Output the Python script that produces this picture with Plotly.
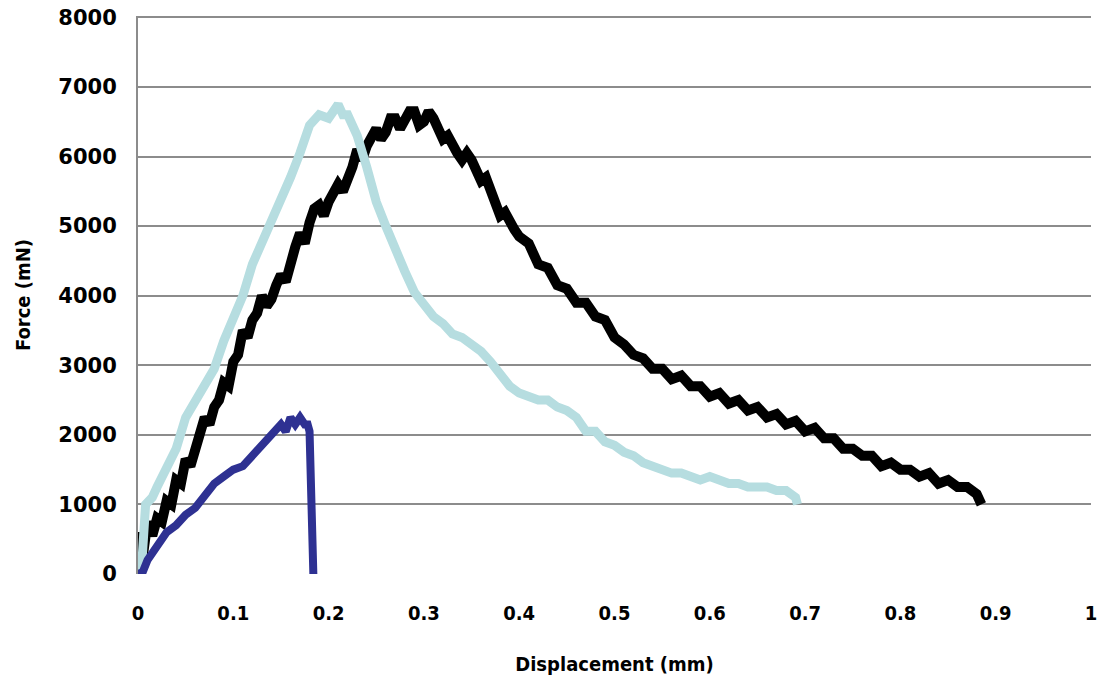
import plotly.graph_objects as go

# Force-displacement records for three specimens
disp_black = [0, 0.002, 0.005, 0.01, 0.015, 0.02, 0.025, 0.03, 0.035, 0.04, 0.045, 0.05,
              0.055, 0.06, 0.065, 0.07, 0.075, 0.08, 0.085, 0.09, 0.095,
              0.10, 0.105, 0.11, 0.115, 0.12, 0.125, 0.13, 0.135, 0.14, 0.145, 0.15, 0.155,
              0.16, 0.165, 0.17, 0.175, 0.18, 0.185, 0.19, 0.195, 0.20, 0.205, 0.21, 0.215,
              0.22, 0.225, 0.23, 0.235, 0.24, 0.245, 0.25, 0.255, 0.26, 0.265, 0.27, 0.275,
              0.28, 0.285, 0.29, 0.295, 0.30, 0.305, 0.31, 0.315, 0.32, 0.325, 0.33, 0.335,
              0.34, 0.345, 0.35, 0.355, 0.36, 0.365, 0.37, 0.375, 0.38, 0.385, 0.39, 0.395,
              0.40, 0.41, 0.42, 0.43, 0.44, 0.45, 0.46, 0.47, 0.48,
              0.49, 0.50, 0.51, 0.52, 0.53, 0.54, 0.55, 0.56, 0.57, 0.58, 0.59, 0.60, 0.61,
              0.62, 0.63, 0.64, 0.65, 0.66, 0.67, 0.68, 0.69, 0.70, 0.71, 0.72, 0.73, 0.74,
              0.75, 0.76, 0.77, 0.78, 0.79, 0.80, 0.81, 0.82, 0.83, 0.84, 0.85, 0.86, 0.87,
              0.88, 0.885]
force_black = [0, 600, 250, 750, 550, 800, 750, 1050, 1000, 1350, 1300, 1650,
               1550, 1800, 2000, 2250, 2150, 2400, 2500, 2750, 2700,
               3050, 3150, 3500, 3400, 3650, 3750, 4000, 3850, 3950, 4150, 4300, 4200,
               4500, 4700, 4900, 4750, 5050, 5250, 5300, 5150, 5350, 5500, 5600, 5500,
               5650, 5850, 6100, 5950, 6150, 6300, 6400, 6250, 6350, 6550, 6550, 6400,
               6500, 6650, 6650, 6450, 6500, 6650, 6550, 6350, 6250, 6300, 6150, 6050,
               5950, 6050, 5950, 5800, 5650, 5700, 5500, 5350, 5150, 5200, 5050, 4950,
               4850, 4750, 4450, 4400, 4150, 4100, 3900, 3900, 3700,
               3650, 3400, 3300, 3150, 3100, 2950, 2950, 2800, 2850, 2700, 2700, 2550, 2600,
               2450, 2500, 2350, 2400, 2250, 2300, 2150, 2200, 2050, 2100, 1950, 1950, 1800,
               1800, 1700, 1700, 1550, 1600, 1500, 1500, 1400, 1450, 1300, 1350, 1250, 1250,
               1150, 1000]

disp_light = [0, 0.004, 0.008, 0.015, 0.02, 0.03, 0.04, 0.05, 0.06, 0.07, 0.08, 0.09,
              0.10, 0.11, 0.12, 0.13, 0.14, 0.15, 0.16, 0.17, 0.18, 0.19, 0.20, 0.21, 0.215,
              0.22, 0.23, 0.24, 0.25, 0.26, 0.27, 0.28, 0.29, 0.30, 0.31, 0.32, 0.33, 0.34,
              0.35, 0.36, 0.37, 0.38, 0.39, 0.40, 0.41, 0.42, 0.43, 0.44, 0.45, 0.46, 0.47,
              0.48, 0.49, 0.50, 0.51, 0.52, 0.53, 0.54, 0.55, 0.56, 0.57, 0.58, 0.59, 0.60,
              0.61, 0.62, 0.63, 0.64, 0.65, 0.66, 0.67, 0.68, 0.69, 0.692]
force_light = [0, 150, 1000, 1100, 1250, 1500, 1800, 2250, 2500, 2700, 2950, 3350,
               3650, 4000, 4450, 4750, 5050, 5400, 5700, 6050, 6450, 6600, 6550, 6750, 6600,
               6600, 6300, 5850, 5350, 5000, 4650, 4350, 4050, 3850, 3700, 3600, 3450, 3400,
               3300, 3200, 3050, 2850, 2700, 2600, 2550, 2500, 2500, 2400, 2350, 2250, 2050,
               2050, 1900, 1850, 1750, 1700, 1600, 1550, 1500, 1450, 1450, 1400, 1350, 1400,
               1350, 1300, 1300, 1250, 1250, 1250, 1200, 1200, 1100, 1000]

disp_dark = [0, 0.005, 0.01, 0.015, 0.02, 0.025, 0.03, 0.04, 0.05, 0.06, 0.07, 0.08,
             0.09, 0.10, 0.11, 0.12, 0.13, 0.14, 0.15, 0.155, 0.16, 0.165, 0.17, 0.175,
             0.178, 0.18, 0.182, 0.184]
force_dark = [0, 30, 200, 300, 400, 550, 600, 700, 850, 950, 1150, 1300,
              1400, 1500, 1550, 1700, 1850, 2000, 2150, 2050, 2250, 2150, 2250, 2150,
              2150, 2050, 1000, 0]

x_ticks = [0, 0.1, 0.2, 0.3, 0.4, 0.5, 0.6, 0.7, 0.8, 0.9, 1]
x_tick_text = ["0", "0.1", "0.2", "0.3", "0.4", "0.5", "0.6", "0.7", "0.8", "0.9", "1"]
y_ticks = [0, 1000, 2000, 3000, 4000, 5000, 6000, 7000, 8000]

fig = go.Figure()
fig.add_trace(go.Scatter(x=disp_black, y=force_black, mode="lines",
                         line=dict(color="#000000", width=10), showlegend=False))
fig.add_trace(go.Scatter(x=disp_light, y=force_light, mode="lines",
                         line=dict(color="#b6dde0", width=9), showlegend=False))
fig.add_trace(go.Scatter(x=disp_dark, y=force_dark, mode="lines",
                         line=dict(color="#2e3192", width=8), showlegend=False))

narrow = "DejaVu Sans Condensed, Liberation Sans Narrow, sans-serif"

fig.update_layout(
    width=1105, height=682,
    margin=dict(l=138, r=14, t=16, b=108, autoexpand=False),
    paper_bgcolor="white", plot_bgcolor="white",
    xaxis=dict(
        range=[0, 1], tickvals=x_ticks, ticktext=x_tick_text,
        showgrid=False, zeroline=False, showline=False, ticks="",
        automargin=False, ticklabelstandoff=25,
        tickfont=dict(family=narrow, size=20, color="black", weight="bold"),
        title=dict(text="Displacement (mm)", standoff=32,
                   font=dict(family=narrow, size=20, color="black", weight="bold")),
    ),
    yaxis=dict(
        range=[0, 8020], tickvals=y_ticks,
        showgrid=True, gridcolor="#8c8c8c", gridwidth=2,
        zeroline=False, showline=True, linecolor="#8c8c8c", linewidth=2, ticks="",
        automargin=False, ticklabelstandoff=15,
        tickfont=dict(family="DejaVu Sans, sans-serif", size=21, color="black", weight="bold"),
        title=dict(text="Force (mN)", standoff=22,
                   font=dict(family=narrow, size=20, color="black", weight="bold")),
    ),
)

fig.write_html("out.html")
